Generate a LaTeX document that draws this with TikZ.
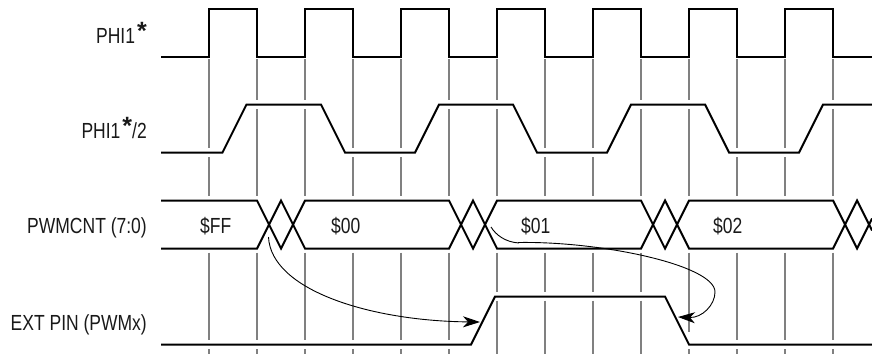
\documentclass[tikz,border=0pt]{standalone}
\usepackage{fontspec}
\usepackage{graphicx}
\setmainfont{Liberation Sans}
\usetikzlibrary{arrows.meta}
\tikzset{
  trace/.style={line width=2pt,black,line join=miter},
  gridl/.style={line width=1.3pt,black!50},
  lbl/.style={font=\fontsize{17.5}{20}\selectfont,inner sep=0pt,text=black!90},
  lblr/.style={lbl,anchor=base east},
  val/.style={lbl,anchor=base west},
  link/.style={line width=0.9pt,black},
  head/.style={-{Stealth[length=17pt,width=11pt,inset=5pt]}}
}
\newcommand{\tallt}[1]{\scalebox{1}[1.25]{#1}}
\newcommand{\starmark}{\hspace{2pt}\raisebox{3.5pt}{\fontsize{25}{25}\selectfont\bfseries *}}
\begin{document}
\begin{tikzpicture}[x=1pt,y=-1pt]
\useasboundingbox (0,0) rectangle (872,354);
% grid
\foreach \x/\a/\b/\c in {
 209/148/157/340, 257/100/109/340, 305/100/109/340, 353/148/157/340, 401/148/157/340}
 {\draw[gridl] (\x,59)--(\x,\a) (\x,\b)--(\x,196) (\x,252.7)--(\x,340) (\x,349)--(\x,354);}
\draw[gridl] (449,59)--(449,100) (449,109)--(449,196) (449,252.7)--(449,340) (449,349)--(449,354);
\foreach \x/\a/\b in {497/100/109,545/148/157,593/148/157,641/100/109}
 {\draw[gridl] (\x,59)--(\x,\a) (\x,\b)--(\x,196) (\x,252.7)--(\x,292) (\x,300.5)--(\x,354);}
\draw[gridl] (689,59)--(689,100) (689,109)--(689,196) (689,252.7)--(689,332) (689,349)--(689,354);
\foreach \x/\a/\b in {737/148/157,785/148/157,833/100/109}
 {\draw[gridl] (\x,59)--(\x,\a) (\x,\b)--(\x,196) (\x,252.7)--(\x,340) (\x,349)--(\x,354);}
% PHI1
\draw[trace] (161,56.5)--(209,56.5)--(209,8.5)--(257,8.5)--(257,56.5)--(305,56.5)--(305,8.5)--(353,8.5)--(353,56.5)--(401,56.5)--(401,8.5)--(449,8.5)--(449,56.5)--(497,56.5)--(497,8.5)--(545,8.5)--(545,56.5)--(593,56.5)--(593,8.5)--(641,8.5)--(641,56.5)--(689,56.5)--(689,8.5)--(737,8.5)--(737,56.5)--(785,56.5)--(785,8.5)--(833,8.5)--(833,56.5)--(872,56.5);
% PHI1/2
\draw[trace] (161,152.5)--(222.5,152.5)--(246.5,104.5)--(321,104.5)--(345,152.5)--(415,152.5)--(439,104.5)--(513,104.5)--(537,152.5)--(607,152.5)--(631,104.5)--(705,104.5)--(729,152.5)--(799,152.5)--(823,104.5)--(872,104.5);
% PWMCNT
\draw[trace] (161,200.5)--(257,200.5)--(281,248.5)--(305,200.5)--(449,200.5)--(473,248.5)--(497,200.5)--(641,200.5)--(665,248.5)--(689,200.5)--(833,200.5)--(857,248.5)--(872,218.5);
\draw[trace] (161,248.5)--(257,248.5)--(281,200.5)--(305,248.5)--(449,248.5)--(473,200.5)--(497,248.5)--(641,248.5)--(665,200.5)--(689,248.5)--(833,248.5)--(857,200.5)--(872,230.5);
% EXT
\draw[trace] (161,344.5)--(471,344.5)--(495,296.5)--(665,296.5)--(689,344.5)--(872,344.5);
% labels
\node[lblr] (l1) at (147,43) {\tallt{PHI1}\starmark};
\node[lblr] (l2) at (147,138) {\tallt{PHI1}\starmark\tallt{/2}};
\node[lblr] (l3) at (147,233.5) {\tallt{PWMCNT (7:0)}};
\node[lblr] (l4) at (147,330) {\tallt{EXT PIN (PWMx)}};
\node[val] (vff) at (200,233.5) {\tallt{\$FF}};
\node[val] (v00) at (331,233.5) {\tallt{\$00}};
\node[val] (v01) at (521,233.5) {\tallt{\$01}};
\node[val] (v02) at (713,233.5) {\tallt{\$02}};
% links
\coordinate (a0) at (268.5,237);
\coordinate (a1) at (480,322);
\coordinate (b0) at (491,227);
\coordinate (b1) at (519,243);
\coordinate (b2) at (518,242.5);
\coordinate (b3) at (678,317);
\draw[link,head] (a0) .. controls (271,290) and (370,321) .. (a1);
\draw[link] (b0) .. controls (496,235) and (505,242) .. (b1);
\draw[link,head] (b2) .. controls (600,241) and (715,265) .. (715,292) .. controls (715,305) and (702,318) .. (b3);
\end{tikzpicture}
\end{document}
